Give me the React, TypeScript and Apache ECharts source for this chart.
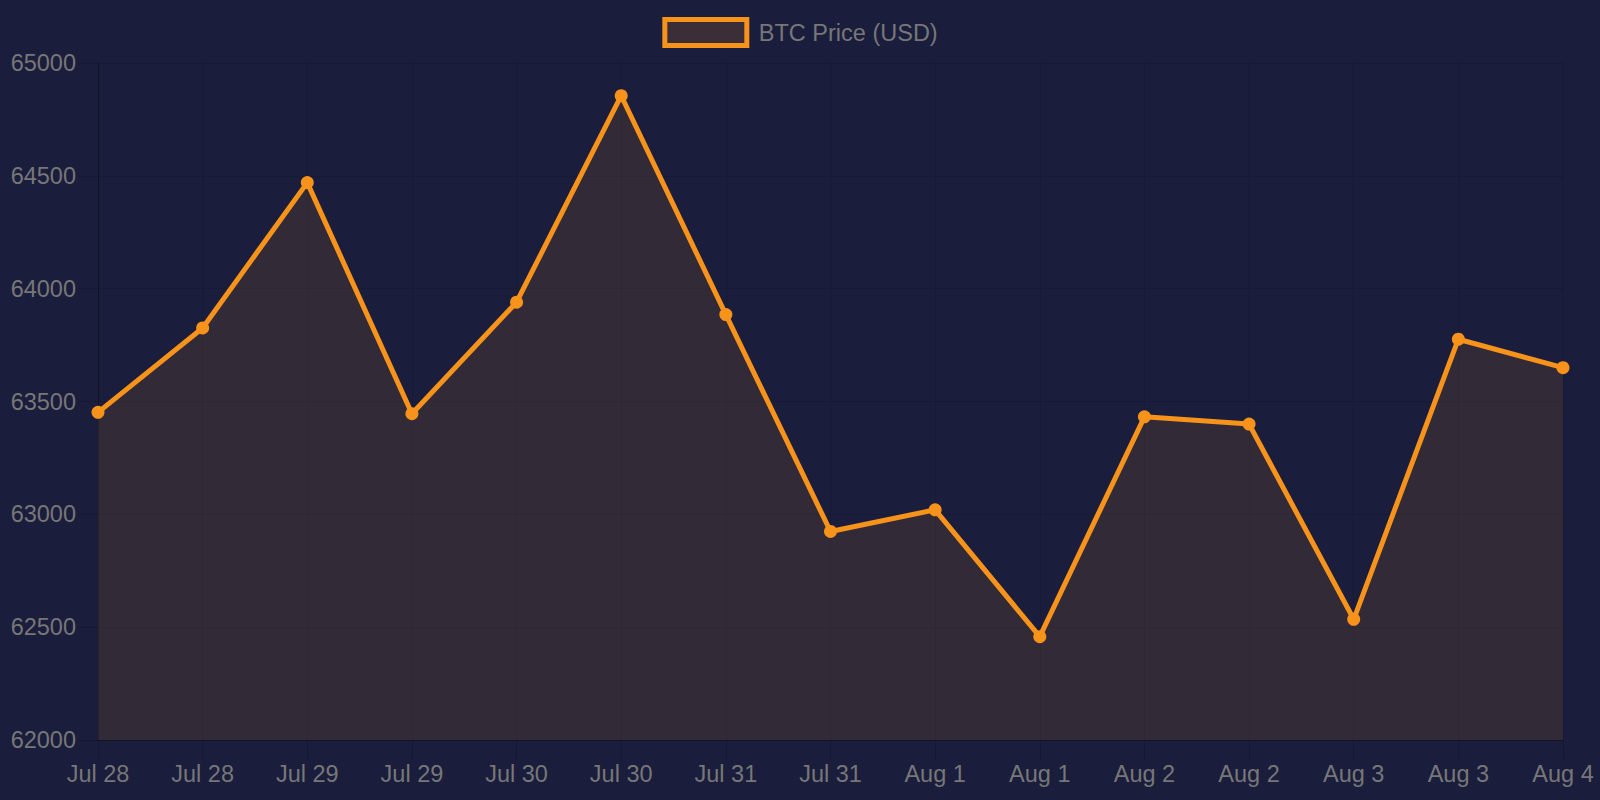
import React, { useEffect, useRef } from "react";
import * as echarts from "echarts";

const categories = [
  "Jul 28", "Jul 28", "Jul 29", "Jul 29", "Jul 30", "Jul 30", "Jul 31", "Jul 31",
  "Aug 1", "Aug 1", "Aug 2", "Aug 2", "Aug 3", "Aug 3", "Aug 4",
];
const prices = [
  63452, 63826, 64470, 63446, 63940, 64855, 63885, 62924,
  63020, 62458, 63432, 63400, 62535, 63776, 63650,
];
const seriesName = "BTC Price (USD)";
const yMin = 62000;
const yMax = 65000;
const yStep = 500;

const ORANGE = "#f7931a";
const LABEL = "#777777";
const FONT = "'Liberation Sans', Arial, Helvetica, sans-serif";

export default function App() {
  const ref = useRef<HTMLDivElement>(null);
  useEffect(() => {
    if (!ref.current) return;
    const chart = echarts.init(ref.current, undefined, { renderer: "svg" });
    chart.setOption({
      animation: false,
      backgroundColor: "#1a1d3c",
      textStyle: { fontFamily: FONT },
      legend: {
        top: 12,
        left: "center",
        icon: "rect",
        itemWidth: 82,
        itemHeight: 26,
        data: [
          {
            name: seriesName,
            itemStyle: { color: "#3c2e36", borderColor: ORANGE, borderWidth: 5 },
          },
        ],
        textStyle: { color: LABEL, fontSize: 23.5, fontFamily: FONT, padding: [0, 0, 0, 7] },
      },
      grid: { left: 98, right: 37, top: 63, bottom: 60, containLabel: false },
      xAxis: {
        type: "category",
        data: categories,
        boundaryGap: false,
        axisLine: { show: true, lineStyle: { color: "rgba(0,0,0,0.22)", width: 1 } },
        axisTick: { show: true, length: 19, lineStyle: { color: "rgba(0,0,0,0.15)" } },
        axisLabel: { color: LABEL, fontSize: 23.5, fontFamily: FONT, margin: 22, interval: 0 },
        splitLine: { show: true, lineStyle: { color: "rgba(0,0,0,0.1)", width: 1 } },
      },
      yAxis: {
        type: "value",
        min: yMin,
        max: yMax,
        interval: yStep,
        axisLine: { show: true, lineStyle: { color: "rgba(0,0,0,0.3)", width: 1 } },
        axisTick: { show: true, length: 19, lineStyle: { color: "rgba(0,0,0,0.12)" } },
        axisLabel: {
          color: LABEL,
          fontSize: 23.5,
          fontFamily: FONT,
          margin: 22,
          formatter: (v: number) => String(v),
        },
        splitLine: { show: true, lineStyle: { color: "rgba(0,0,0,0.1)", width: 1 } },
      },
      series: [
        {
          name: seriesName,
          type: "line",
          data: prices,
          symbol: "circle",
          symbolSize: 13,
          showSymbol: true,
          itemStyle: { color: ORANGE },
          lineStyle: { color: ORANGE, width: 5 },
          areaStyle: { color: "rgba(247,147,26,0.17)", origin: "start" },
        },
      ],
    });
    return () => chart.dispose();
  }, []);
  return (
    <div
      ref={ref}
      style={{ position: "fixed", left: 0, top: 0, width: 1600, height: 800 }}
    />
  );
}
